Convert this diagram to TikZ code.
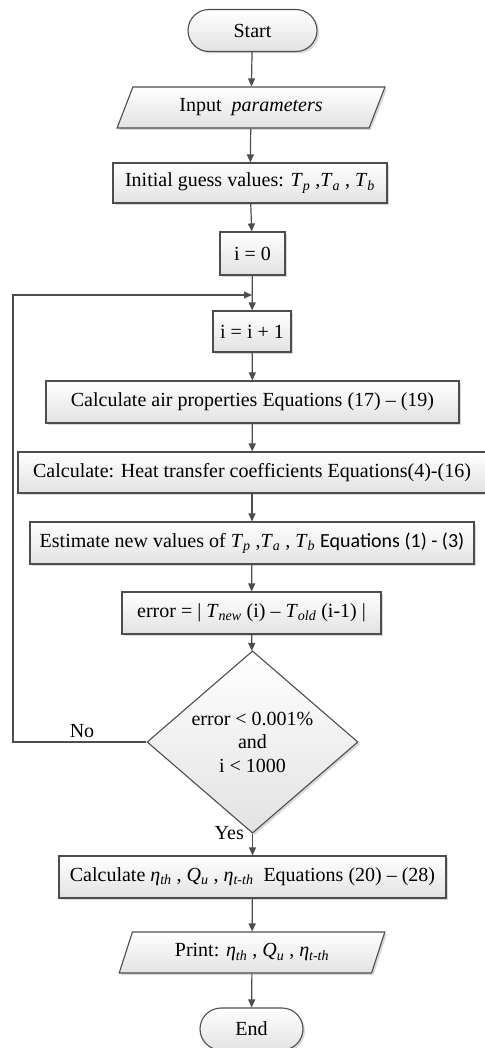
\documentclass[tikz,border=0pt]{standalone}
\usepackage{fontspec}
\setmainfont{Liberation Serif}
\newfontfamily\calib{Carlito}
\usetikzlibrary{shapes.geometric,shapes.misc,arrows.meta,shadows}
\definecolor{linec}{HTML}{4D4D4D}
\definecolor{boxbot}{HTML}{E2E2E2}
\newcommand\fs{\fontsize{20}{24}\selectfont}
\newcommand\Tv[2]{\textit{#1}\textsubscript{\textit{#2}}}
\tikzset{
  line/.style={draw=linec, line width=1.2pt},
  arr/.style={line, -{Triangle[length=8pt,width=7pt]}},
  shapebase/.style={draw=linec, line width=1.1pt, top color=white, bottom color=boxbot,
    drop shadow={shadow xshift=2pt, shadow yshift=-2pt, fill=black!30, opacity=0.5},
    inner sep=0pt, font=\fs, text=black},
  box/.style={shapebase, rectangle},
  term/.style={shapebase, rounded rectangle},
  io/.style={shapebase, trapezium, trapezium stretches=true},
  decision/.style={shapebase, diamond, align=center, font=\fontsize{20}{23.5}\selectfont},
  lab/.style={font=\fs, text=black, inner sep=0pt}
}
\begin{document}
\begin{tikzpicture}[x=1pt,y=-1pt]
\useasboundingbox (0,0) rectangle (484,1048);
\node[term, minimum width=129pt, minimum height=42pt] (start) at (252.5,30.5) {Start};
\node[io, trapezium left angle=61, trapezium right angle=119, minimum width=268pt, minimum height=41pt] (input) at (251,107.5) {Input~ \textit{parameters}};
\node[box, minimum width=274pt, minimum height=40pt] (init) at (250,183) {Initial guess values: \Tv{T}{p} ,\Tv{T}{a} , \Tv{T}{b}};
\node[box, minimum width=65pt, minimum height=43pt] (i0) at (252.5,253.5) {i = 0};
\node[box, minimum width=78pt, minimum height=41pt] (i1) at (252,331.5) {i = i + 1};
\node[box, minimum width=413pt, minimum height=42pt] (air) at (252.5,402) {Calculate air properties Equations (17) – (19)};
\node[box, minimum width=468pt, minimum height=41pt] (heat) at (252,472.5) {Calculate: Heat transfer coefficients Equations(4)-(16)};
\node[box, minimum width=444pt, minimum height=42pt] (est) at (252,543) {Estimate new values of \Tv{T}{p} ,\Tv{T}{a} , \Tv{T}{b} {\calib Equations (1) - (3)}};
\node[box, minimum width=259pt, minimum height=42pt] (err) at (251.5,613) {error = | \Tv{T}{new} (i) – \Tv{T}{old} (i-1) |};
\node[decision, minimum width=211pt, minimum height=158pt] (dec) at (252.5,742) {error < 0.001\%\\and\\i < 1000};
\node[box, minimum width=387pt, minimum height=42pt] (calc) at (252.5,877) {Calculate \Tv{η}{th} , \Tv{Q}{u} , \Tv{η}{t-th}~ Equations (20) – (28)};
\node[io, trapezium left angle=64, trapezium right angle=116, minimum width=266pt, minimum height=41pt] (print) at (252,952.5) {Print: \Tv{η}{th} , \Tv{Q}{u} , \Tv{η}{t-th}};
\node[term, minimum width=103pt, minimum height=42pt] (end) at (251.5,1029) {End};
\node[lab] (no) at (82,731) {No};
\node[lab, anchor=east] (yes) at (244,833) {Yes};
\coordinate (loopL) at (13,295);
\coordinate (join) at (252,295);
\draw[arr] (start) -- (input);
\draw[arr] (input) -- (init);
\draw[arr] (init) -- (i0);
\draw[arr] (i0) -- (i1);
\draw[arr] (i1) -- (air);
\draw[arr] (air) -- (heat);
\draw[arr] (heat) -- (est);
\draw[arr] (est) -- (err);
\draw[arr] (err) -- (dec);
\draw[arr] (dec) -- (calc);
\draw[arr] (calc) -- (print);
\draw[arr] (print) -- (end);
\draw[arr] (dec.west) -| (loopL) -- (join);
\end{tikzpicture}
\end{document}
